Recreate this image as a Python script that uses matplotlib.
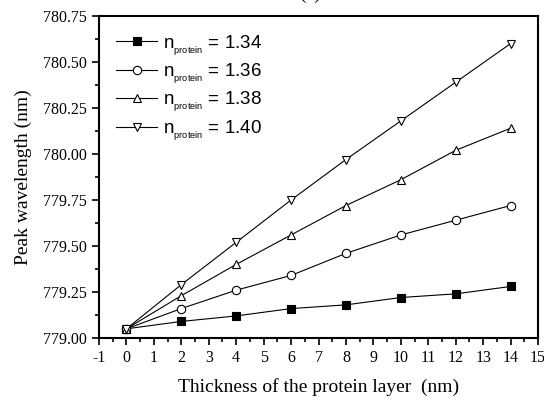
import numpy as np
import matplotlib
matplotlib.use("Agg")
import matplotlib.pyplot as plt
from matplotlib.ticker import MultipleLocator, FormatStrFormatter

# ============================================================
# Data
# ============================================================

thickness = [0, 2, 4, 6, 8, 10, 12, 14]

peak_134 = [779.05, 779.09, 779.12, 779.16, 779.18, 779.22, 779.24, 779.28]
peak_136 = [779.05, 779.16, 779.26, 779.34, 779.46, 779.56, 779.64, 779.72]
peak_138 = [779.05, 779.23, 779.40, 779.56, 779.72, 779.86, 780.02, 780.14]
peak_140 = [779.05, 779.29, 779.52, 779.75, 779.97, 780.18, 780.39, 780.60]

labels = ["1.34", "1.36", "1.38", "1.40"]

# ============================================================
# Plot
# ============================================================

plt.rcParams["font.family"] = ["Liberation Serif", "DejaVu Serif"]
plt.rcParams["axes.unicode_minus"] = False

fig = plt.figure(figsize=(5.44, 4.00), dpi=100)
ax = fig.add_axes([0.182, 0.155, 0.807, 0.805])

series = [
    (peak_134, "s", "black"),
    (peak_136, "o", "white"),
    (peak_138, "^", "white"),
    (peak_140, "v", "white"),
]
for (vals, marker, face), lab in zip(series, labels):
    ax.plot(thickness, vals, color="black", lw=0.8, marker=marker,
            markersize=6, markerfacecolor=face, markeredgecolor="black",
            markeredgewidth=0.8,
            label=r"n$_{_{\mathregular{protein}}}$ = " + lab)

ax.set_xlim(-1, 15)
ax.set_ylim(779.0, 780.75)
ax.xaxis.set_major_locator(MultipleLocator(1))
ax.xaxis.set_minor_locator(MultipleLocator(0.5))
ax.yaxis.set_major_locator(MultipleLocator(0.25))
ax.yaxis.set_minor_locator(MultipleLocator(0.125))
ax.yaxis.set_major_formatter(FormatStrFormatter("%.2f"))

ax.tick_params(which="both", direction="out", top=False, right=False,
               width=1.2, labelsize=11.5)
ax.tick_params(which="major", length=5)
ax.tick_params(which="minor", length=3)
for sp in ax.spines.values():
    sp.set_linewidth(1.5)

ax.set_xlabel("Thickness of the protein layer  (nm)", fontsize=14, labelpad=9)
ax.set_ylabel("Peak wavelength (nm)", fontsize=14, labelpad=8)

ax.legend(loc="upper left", frameon=False, handlelength=2.2,
          borderaxespad=0.5, labelspacing=0.2, handletextpad=0.3,
          prop={"family": "Liberation Sans", "size": 13.5})

fig.text(0.57, 0.992, "(a)", ha="center", va="bottom", fontsize=14)

fig.savefig("out.png", dpi=100)
